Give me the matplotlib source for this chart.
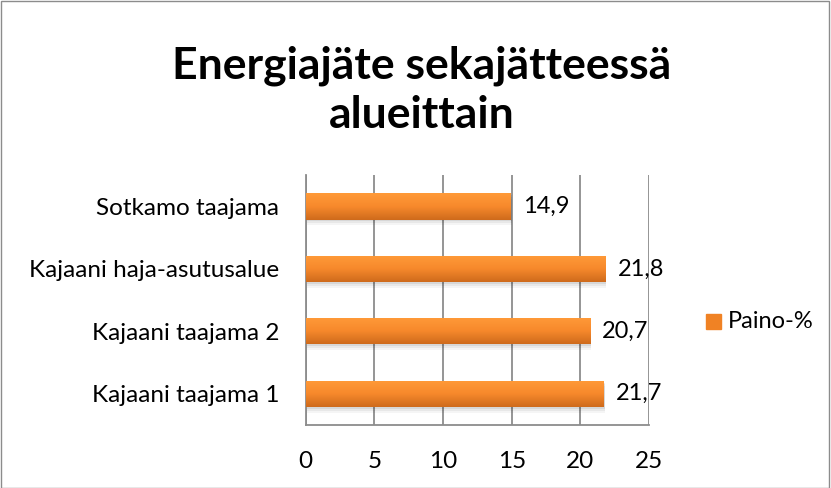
import matplotlib.pyplot as plt
import numpy as np
from matplotlib.colors import LinearSegmentedColormap
from matplotlib.patches import Rectangle

categories = ['Kajaani taajama 1', 'Kajaani taajama 2', 'Kajaani haja-asutusalue', 'Sotkamo taajama']
values = [21.7, 20.7, 21.8, 14.9]
xticks = [0, 5, 10, 15, 20, 25]
series_name = 'Paino-%'
title = 'Energiajäte sekajätteessä\nalueittain'

plt.rcParams['font.family'] = ['Lato', 'DejaVu Sans']

fig = plt.figure(figsize=(8.31, 4.88), dpi=100)
ax = fig.add_axes([0.368, 0.129, 0.413, 0.512])

grad = LinearSegmentedColormap.from_list('og', ['#cf6b1c', '#f7892c', '#ff9a38'])
bar_h = 0.42
y = np.arange(len(categories))
bars = ax.barh(y, values, height=bar_h, color='#f58a2a', zorder=3)
for b in bars:
    x0, y0 = b.get_x(), b.get_y()
    w, h = b.get_width(), b.get_height()
    # soft shadow
    for k, a in enumerate([0.07, 0.05, 0.04]):
        ax.add_patch(Rectangle((x0 + 0.1, y0 - 0.03 * (k + 1)), w, h, color='black',
                               alpha=a, zorder=2, lw=0))
    img = ax.imshow(np.linspace(0, 1, 50).reshape(-1, 1), cmap=grad, aspect='auto',
                    extent=[x0, x0 + w, y0, y0 + h], origin='lower', zorder=4)
    img.set_clip_path(b)

for yi, v in zip(y, values):
    ax.text(v + 0.9, yi, ('%.1f' % v).replace('.', ','), va='center', ha='left',
            fontsize=17, color='black', zorder=5)

ax.set_xlim(0, 25)
ax.set_ylim(-0.5, len(categories) - 0.5)
ax.set_xticks(xticks)
ax.set_xticklabels([str(t) for t in xticks], fontsize=17.5)
ax.set_yticks(y)
ax.set_yticklabels(categories, fontsize=17.5)
ax.tick_params(axis='x', length=0, pad=19)
ax.tick_params(axis='y', length=0, pad=19)
ax.grid(axis='x', color='#8c8c8c', lw=1.3, zorder=1)
for s in ['top', 'right']:
    ax.spines[s].set_visible(False)
for s in ['left', 'bottom']:
    ax.spines[s].set_color('#8c8c8c')
    ax.spines[s].set_linewidth(1.3)

fig.text(0.507, 0.815, title, ha='center', va='center', fontsize=32,
         fontweight='bold', linespacing=1.25)

# legend
fig.patches.append(Rectangle((706 / 831, 1 - 329 / 488), 15 / 831, 15 / 488,
                             transform=fig.transFigure, color='#f08224', figure=fig))
fig.text(728 / 831, 1 - 322 / 488, series_name, fontsize=17, va='center', ha='left')

# outer border
fig.patches.append(Rectangle((0.001, 0.001), 0.997, 0.997, transform=fig.transFigure,
                             fill=False, edgecolor='#8c8c8c', lw=1, figure=fig))

fig.savefig('out.png', dpi=100, facecolor='white')
